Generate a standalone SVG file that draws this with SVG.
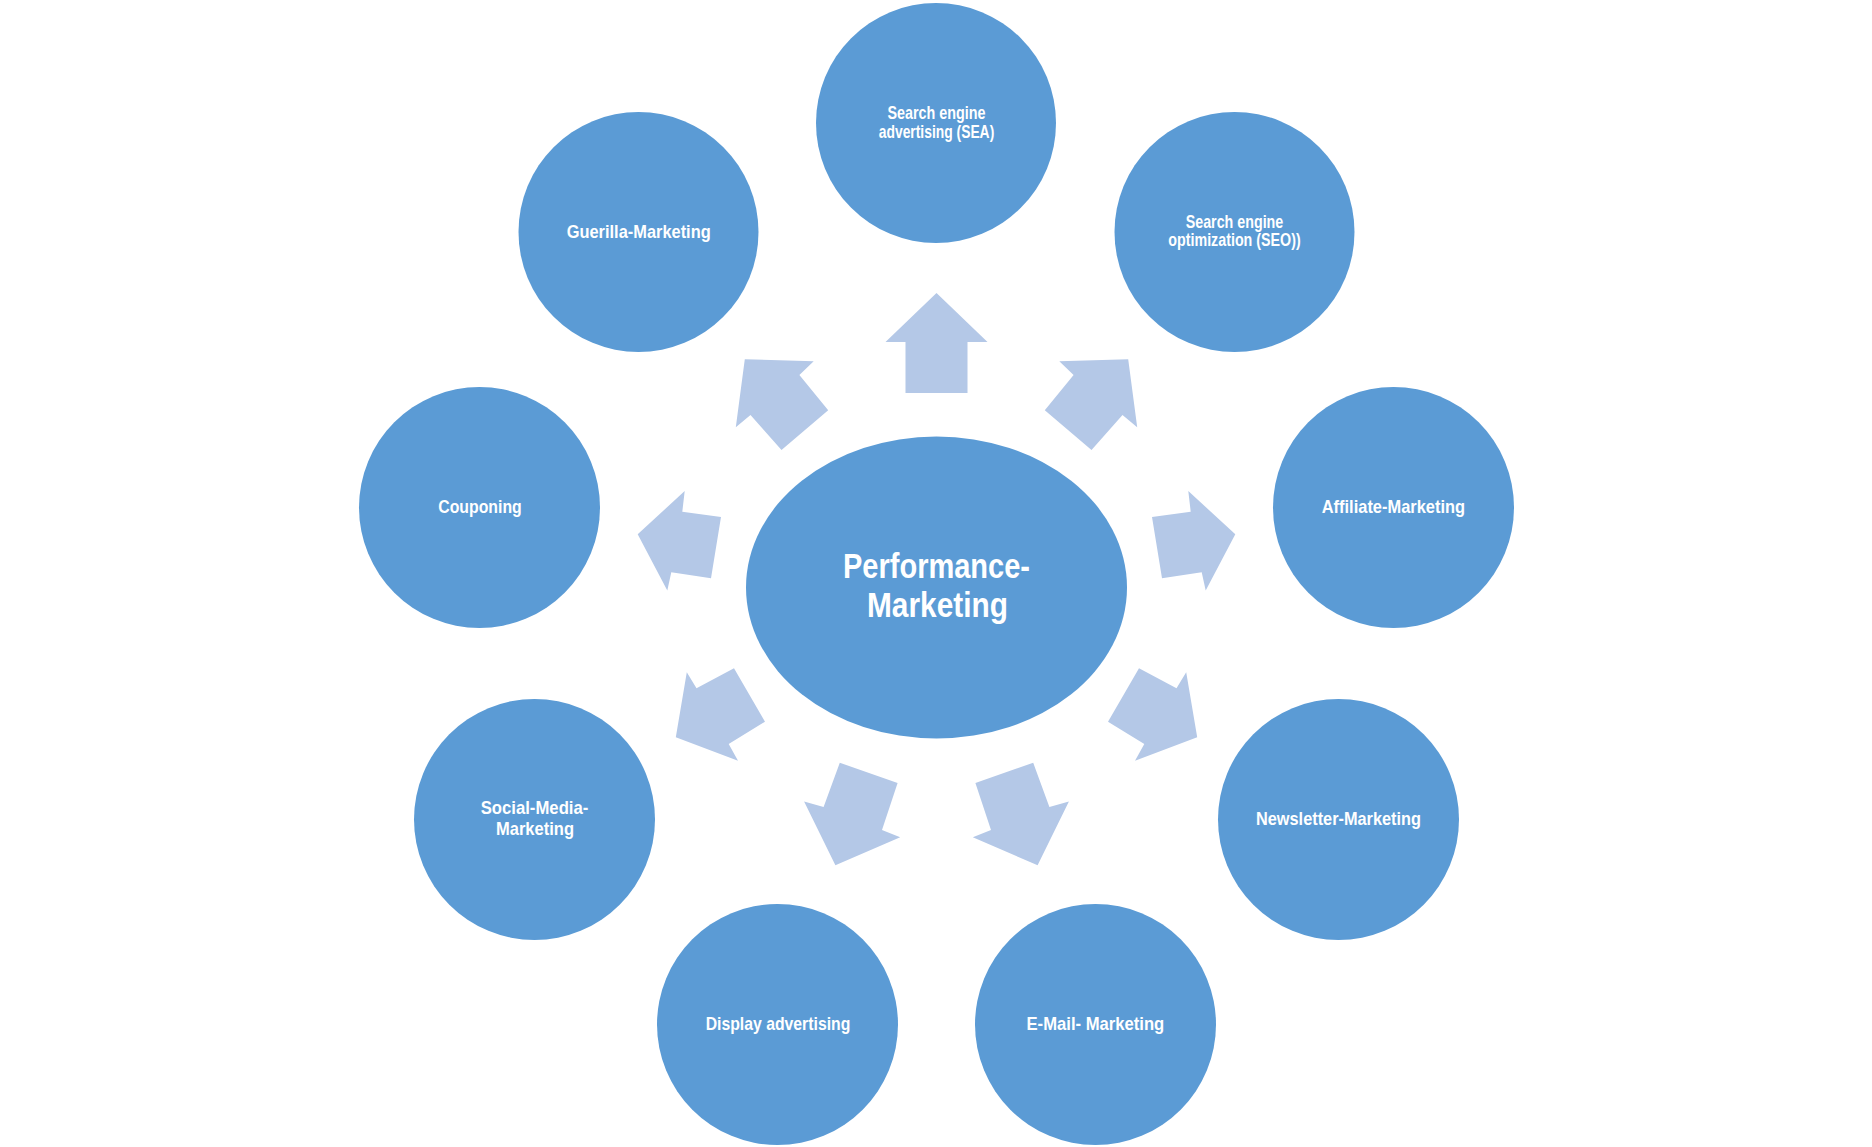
<svg xmlns="http://www.w3.org/2000/svg" width="1872" height="1147" viewBox="0 0 1872 1147">
<style>
.node{fill:#5B9BD5}
.arr{fill:#B4C8E7}
.lbl{fill:#FFFFFF;font-family:'Liberation Sans Narrow','Arial Narrow','Liberation Sans',Arial,sans-serif;font-weight:bold;font-size:19px;text-anchor:middle}
.big{font-size:35px}
</style>
<rect width="1872" height="1147" fill="#FFFFFF"/>
<g id="connectors">
<polygon class="arr" points="936.5,293 987.5,342 967.5,342 967.5,393 905.5,393 905.5,342 885.5,342"/>
<polygon class="arr" points="1128.2,359.2 1137.2,427.2 1122.5,415 1091.5,450 1044.8,410.3 1073.6,375 1059.3,361.3"/>
<polygon class="arr" points="744.8,359.2 735.8,427.2 750.5,415 781.5,450 828.2,410.3 799.4,375 813.7,361.3"/>
<polygon class="arr" points="1235.3,534.3 1205.7,590.5 1201.7,572.3 1162,578.3 1152,517 1190.7,511.7 1188.3,491"/>
<polygon class="arr" points="637.7,534.3 667.3,590.5 671.3,572.3 711,578.3 721,517 682.3,511.7 684.7,491"/>
<polygon class="arr" points="1139,668.3 1176.5,688.3 1186.2,672.3 1197.2,737.3 1135,760.7 1144.3,744 1108,721.7"/>
<polygon class="arr" points="734,668.3 696.5,688.3 686.8,672.3 675.8,737.3 738,760.7 728.7,744 765,721.7"/>
<polygon class="arr" points="1033.2,762.8 975.4,783 991,830 972.8,837.3 1037.6,865.2 1068.9,801.4 1049.4,807.1"/>
<polygon class="arr" points="839.8,762.8 897.6,783 882,830 900.2,837.3 835.4,865.2 804.1,801.4 823.6,807.1"/>
</g>
<g id="center">
<ellipse class="node" cx="936.5" cy="587.5" rx="190.5" ry="151"/>
<text class="lbl big" x="936.5" y="578" textLength="187" lengthAdjust="spacingAndGlyphs">Performance-</text>
<text class="lbl big" x="937.5" y="617" textLength="141" lengthAdjust="spacingAndGlyphs">Marketing</text>
</g>
<g id="sea">
<circle class="node" cx="936" cy="123" r="120"/>
<text class="lbl" x="936.5" y="119" textLength="98" lengthAdjust="spacingAndGlyphs">Search engine</text>
<text class="lbl" x="936.5" y="137.5" textLength="115.5" lengthAdjust="spacingAndGlyphs">advertising (SEA)</text>
</g>
<g id="seo">
<circle class="node" cx="1234.5" cy="232" r="120"/>
<text class="lbl" x="1234.5" y="227.7" textLength="97.6" lengthAdjust="spacingAndGlyphs">Search engine</text>
<text class="lbl" x="1234.5" y="246" textLength="132.4" lengthAdjust="spacingAndGlyphs">optimization (SEO))</text>
</g>
<g id="guerilla">
<circle class="node" cx="638.5" cy="232" r="120"/>
<text class="lbl" x="638.7" y="237.7" textLength="144" lengthAdjust="spacingAndGlyphs">Guerilla-Marketing</text>
</g>
<g id="couponing">
<circle class="node" cx="479.5" cy="507.5" r="120.5"/>
<text class="lbl" x="480" y="512.7" textLength="83.4" lengthAdjust="spacingAndGlyphs">Couponing</text>
</g>
<g id="affiliate">
<circle class="node" cx="1393.5" cy="507.5" r="120.5"/>
<text class="lbl" x="1393.4" y="512.7" textLength="143.3" lengthAdjust="spacingAndGlyphs">Affiliate-Marketing</text>
</g>
<g id="social">
<circle class="node" cx="534.5" cy="819.5" r="120.5"/>
<text class="lbl" x="534.5" y="814.3" textLength="107.7" lengthAdjust="spacingAndGlyphs">Social-Media-</text>
<text class="lbl" x="535" y="835" textLength="78" lengthAdjust="spacingAndGlyphs">Marketing</text>
</g>
<g id="newsletter">
<circle class="node" cx="1338.5" cy="819.5" r="120.5"/>
<text class="lbl" x="1338.5" y="825" textLength="165" lengthAdjust="spacingAndGlyphs">Newsletter-Marketing</text>
</g>
<g id="display">
<circle class="node" cx="777.5" cy="1024.5" r="120.5"/>
<text class="lbl" x="778" y="1030.3" textLength="144.7" lengthAdjust="spacingAndGlyphs">Display advertising</text>
</g>
<g id="email">
<circle class="node" cx="1095.5" cy="1024.5" r="120.5"/>
<text class="lbl" x="1095.4" y="1030.3" textLength="137.8" lengthAdjust="spacingAndGlyphs">E-Mail- Marketing</text>
</g>
</svg>
